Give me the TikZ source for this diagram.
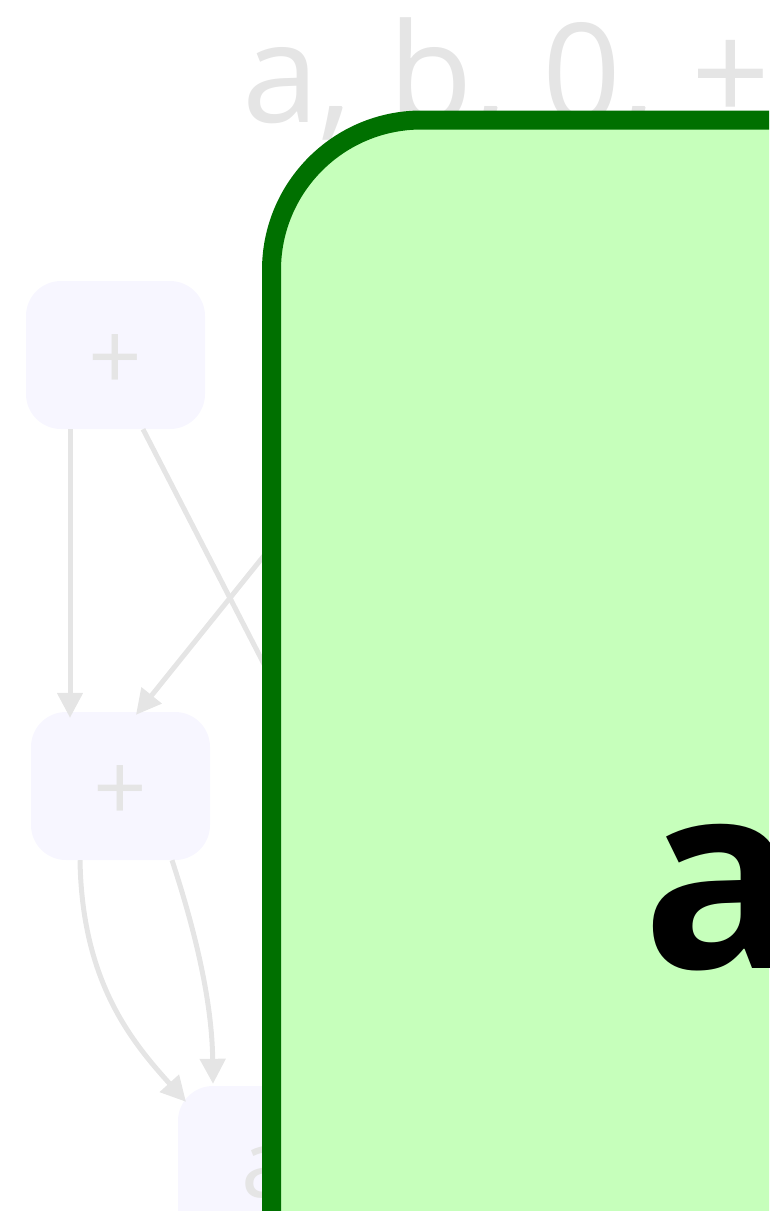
\documentclass[tikz,border=0pt]{standalone}
\usepackage{fontspec}
\setmainfont{Open Sans}
\usetikzlibrary{arrows.meta}
\definecolor{edgegray}{RGB}{229,229,229}
\definecolor{nodefill}{RGB}{247,246,255}
\definecolor{boxfill}{RGB}{198,255,187}
\definecolor{boxline}{RGB}{0,112,0}
\newcommand{\lowplus}{\raisebox{-8pt}[\height][\depth]{+}}
\begin{document}
\begin{tikzpicture}[x=1pt,y=-1pt,
  lightnode/.style={draw=none, fill=nodefill, rounded corners=35pt, minimum width=179pt,
    minimum height=148pt, inner sep=0pt, text=edgegray, font=\fontsize{94}{110}\selectfont},
  edgeline/.style={draw=edgegray, line width=5pt, -{Triangle[length=25pt,width=25pt]}},
  bigbox/.style={draw=boxline, fill=boxfill, line width=19pt, rounded corners=150pt,
    minimum width=1028.5pt, minimum height=1680pt, inner sep=0pt}]
\useasboundingbox (0,0) rectangle (769,1211);
\clip (0,0) rectangle (769,1211);
\node (title) [anchor=base west, inner sep=0pt, text=edgegray, font=\fontsize{138}{160}\selectfont] at (242,122) {a, b, 0, +};
\node (n1) [lightnode] at (115.5,355) {\lowplus};
\node (n2) [lightnode] at (120.5,786) {\lowplus};
\node (n3) [lightnode, minimum height=172pt] at (267.5,1172) {a};
\coordinate (h1) at (300,734);
\coordinate (h2) at (320,486);
\draw[edgeline] ([xshift=-45.5pt]n1.south) -- ([xshift=-50.5pt,yshift=-6pt]n2.north);
\draw[edgeline] ([xshift=27.5pt]n1.south) -- (h1);
\draw[edgeline] (h2) -- ([xshift=15.5pt,yshift=-3pt]n2.north);
\draw[edgeline] ([xshift=-40.5pt]n2.south) .. controls +(2,120) and +(-56,-62) .. ([xshift=-81.5pt,yshift=-16pt]n3.north);
\draw[edgeline] ([xshift=51.5pt]n2.south) .. controls +(23,70) and +(-1,-83) .. ([xshift=-54.5pt,yshift=2pt]n3.north);
\node (main) [bigbox] at (785.75,960) {};
\node (lbl) [anchor=base west, inner sep=0pt, font=\fontsize{259}{300}\selectfont\bfseries] at (642,968) {a};
\end{tikzpicture}
\end{document}
